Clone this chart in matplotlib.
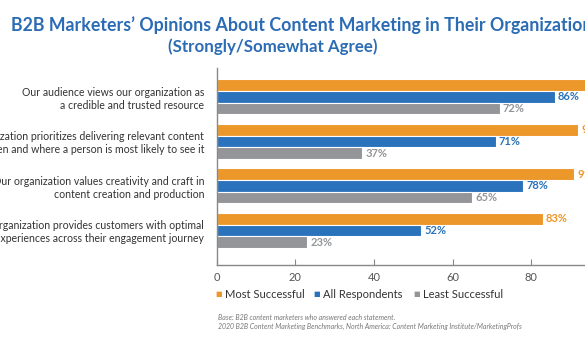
import matplotlib
matplotlib.use("Agg")
import matplotlib.pyplot as plt
import numpy as np

plt.rcParams["font.family"] = ["Lato", "DejaVu Sans"]

statements = [
    "Our audience views our organization as\na credible and trusted resource",
    "Our organization prioritizes delivering relevant content\nwhen and where a person is most likely to see it",
    "Our organization values creativity and craft in\ncontent creation and production",
    "Our organization provides customers with optimal\nexperiences across their engagement journey",
]
most_successful = [96, 92, 91, 83]
all_respondents = [86, 71, 78, 52]
least_successful = [72, 37, 65, 23]
series_names = ["Most Successful", "All Respondents", "Least Successful"]

ORANGE = "#EC972A"
BLUE = "#2A72BC"
GRAY = "#939598"
TITLE_BLUE = "#2B6CB4"

W, H = 585, 341
fig = plt.figure(figsize=(W / 100, H / 100), dpi=100)

# axes placed in pixel terms; right side runs past the figure edge
x0, y_top, y_bot = 216.7, 68, 265
px_per_unit = 3.93
ax = fig.add_axes([x0 / W, (H - y_bot) / H, 100 * px_per_unit / W, (y_bot - y_top) / H])

y = np.arange(len(statements))
h = 0.262
series = [(most_successful, ORANGE, -h), (all_respondents, BLUE, 0), (least_successful, GRAY, h)]
for vals, col, off in series:
    ax.barh(y + off, vals, height=h, color=col, edgecolor="white", linewidth=0.8)
    for yi, v in zip(y, vals):
        ax.text(v + 0.8, yi + off, f"{v}%", va="center", ha="left",
                fontsize=8, fontweight="bold", color=col)

ax.set_xlim(0, 100)
ax.set_ylim(3.775, -0.65)
ax.set_xticks([0, 20, 40, 60, 80, 100])
ax.set_xticklabels(["0", "20", "40", "60", "80", "100"], fontsize=8, color="#555555")
ax.tick_params(axis="x", direction="in", length=4, width=0.8, color="#888888", pad=5)
ax.set_yticks(y)
ax.set_yticklabels(statements, fontsize=7.6, color="#333333", linespacing=1.2)
ax.tick_params(axis="y", length=0, pad=9)
for s in ["top", "right"]:
    ax.spines[s].set_visible(False)
for s in ["left", "bottom"]:
    ax.spines[s].set_color("#888888")
    ax.spines[s].set_linewidth(1.0)

# title
fig.text(11 / W, 1 - 25 / H, "B2B Marketers\u2019 Opinions About Content Marketing in Their Organization",
         ha="left", va="center", fontsize=12.8, fontweight="bold", color=TITLE_BLUE)
fig.text(273 / W, 1 - 47 / H, "(Strongly/Somewhat Agree)",
         ha="center", va="center", fontsize=12.2, fontweight="bold", color=TITLE_BLUE)

# legend
leg_x = [219, 317, 417]
for lx, name, col in zip(leg_x, series_names, [ORANGE, BLUE, GRAY]):
    fig.text(lx / W, 1 - 294 / H, "\u25A0", ha="center", va="center", fontsize=5,
             color=col, family="DejaVu Sans")
    fig.text((lx + 6) / W, 1 - 294 / H, name, ha="left", va="center",
             fontsize=8, color="#333333")

# source notes
fig.text(218 / W, 1 - 317 / H, "Base: B2B content marketers who answered each statement.",
         ha="left", va="center", fontsize=5, style="italic", color="#777777")
fig.text(218 / W, 1 - 326 / H,
         "2020 B2B Content Marketing Benchmarks, North America: Content Marketing Institute/MarketingProfs",
         ha="left", va="center", fontsize=5, style="italic", color="#777777")

fig.savefig("out.png", dpi=100)
